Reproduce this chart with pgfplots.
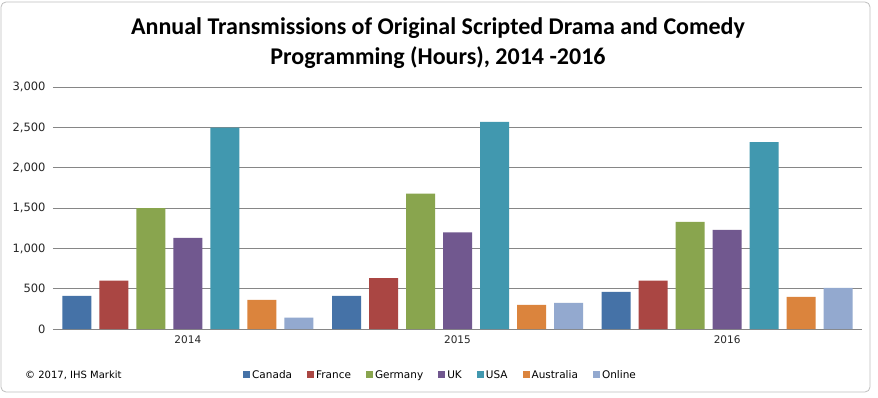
\documentclass[border=0pt]{standalone}
\usepackage{fontspec}
\setmainfont{DejaVu Sans}
\newfontfamily\titlefont{Carlito}
\usepackage{pgfplots}
\pgfplotsset{compat=1.18}
\definecolor{cCanada}{HTML}{4572A7}
\definecolor{cFrance}{HTML}{AA4643}
\definecolor{cGermany}{HTML}{89A54E}
\definecolor{cUK}{HTML}{71588F}
\definecolor{cUSA}{HTML}{4198AF}
\definecolor{cAustralia}{HTML}{DB843D}
\definecolor{cOnline}{HTML}{93A9CF}
\definecolor{gridc}{HTML}{868686}
\pgfplotsset{/pgfplots/ybar legend/.style={/pgfplots/legend image code/.code={\fill[##1,draw=none] (0pt,-3.5pt) rectangle (7pt,3.5pt);}}}
\begin{document}
\begin{tikzpicture}
\path[fill=white] (0pt,0pt) rectangle (878pt,-398pt);
\draw[gray!50, line width=0.8pt, rounded corners=5pt] (1pt,-2pt) rectangle (870pt,-392pt);
\node[font=\titlefont\bfseries\fontsize{24}{30}\selectfont, align=center] at (438pt,-43pt) {Annual Transmissions of Original Scripted Drama and Comedy\\Programming (Hours), 2014 -2016};
\node[anchor=west, font=\fontsize{10}{12}\selectfont, inner sep=0pt] at (25pt,-375pt) {© 2017, IHS Markit};
\begin{axis}[
  at={(53pt,-329pt)}, anchor=south west,
  scale only axis, width=809pt, height=241.7pt,
  xmin=-0.5, xmax=2.5, ymin=0, ymax=3000,
  ybar=8pt, bar width=29pt,
  xtick={0,1,2}, xticklabels={2014,2015,2016},
  ytick={0,500,...,3000},
  ymajorgrids, grid style={gridc, line width=1pt},
  axis line style={draw=none}, major tick length=0pt,
  scaled y ticks=false,
  /pgf/number format/.cd, 1000 sep={,}, assume math mode=true,
  /pgfplots/.cd,
  ticklabel style={font=\fontsize{11.5}{13}\selectfont, text=black!85},
  yticklabel style={xshift=-4pt},
  xticklabel style={yshift=-3pt, font=\fontsize{10.5}{12}\selectfont},
  legend columns=7,
  legend style={draw=none, fill=none, at={(0.479,-0.19)}, anchor=center,
    font=\fontsize{10.5}{12}\selectfont,
    /tikz/every even column/.append style={column sep=13pt},
    nodes={inner sep=2pt}},
]
\addplot[fill=cCanada, draw=none] coordinates {(0,410) (1,410) (2,460)};
\addplot[fill=cFrance, draw=none] coordinates {(0,600) (1,630) (2,600)};
\addplot[fill=cGermany, draw=none] coordinates {(0,1500) (1,1680) (2,1330)};
\addplot[fill=cUK, draw=none] coordinates {(0,1130) (1,1200) (2,1230)};
\addplot[fill=cUSA, draw=none] coordinates {(0,2500) (1,2570) (2,2320)};
\addplot[fill=cAustralia, draw=none] coordinates {(0,360) (1,300) (2,400)};
\addplot[fill=cOnline, draw=none] coordinates {(0,140) (1,325) (2,510)};
\legend{Canada,France,Germany,UK,USA,Australia,Online}
\end{axis}
\end{tikzpicture}
\end{document}
